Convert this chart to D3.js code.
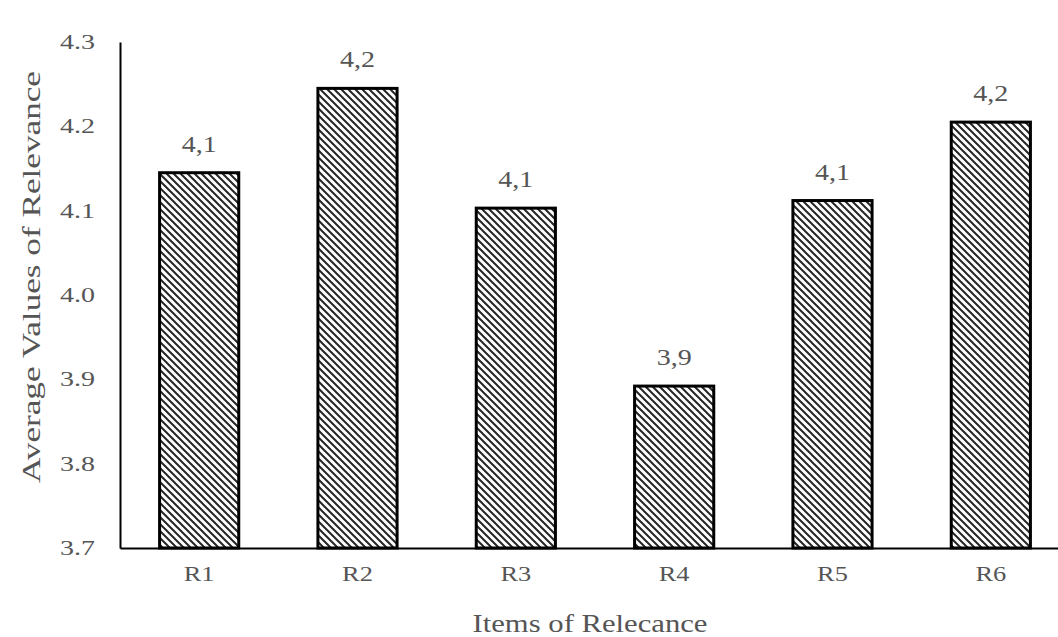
<!DOCTYPE html>
<html><head><meta charset="utf-8">
<script src="https://cdn.jsdelivr.net/npm/d3@7"></script>
<style>html,body{margin:0;padding:0;background:#fff;}</style>
</head><body>
<svg id="chart" width="1058" height="637"></svg>
<script>
const categories = ["R1","R2","R3","R4","R5","R6"];
const values = [4.145, 4.245, 4.103, 3.892, 4.112, 4.205];
const valueLabels = ["4,1","4,2","4,1","3,9","4,1","4,2"];
const yTicks = [3.7, 3.8, 3.9, 4.0, 4.1, 4.2, 4.3];
const yTickLabels = ["3.7","3.8","3.9","4.0","4.1","4.2","4.3"];
const xTitle = "Items of Relecance";
const yTitle = "Average Values of Relevance";

const svg = d3.select("#chart");
const font = "'Liberation Serif', 'Times New Roman', serif";
const textColor = "#555555";

const x = d3.scaleBand().domain(categories).range([120, 1070]).paddingInner(0.5).paddingOuter(0.25);
const y = d3.scaleLinear().domain([3.7, 4.3]).range([548, 42]);

const defs = svg.append("defs");
const pat = defs.append("pattern").attr("id","hatch").attr("patternUnits","userSpaceOnUse")
  .attr("width",7).attr("height",7);
pat.append("rect").attr("width",7).attr("height",7).attr("fill","#fff");
pat.append("path").attr("d","M-1,-1 L8,8 M-8,-1 L1,8 M6,-1 L15,8")
  .attr("stroke","#262626").attr("stroke-width",2);

// bars
svg.append("g").selectAll("rect").data(categories).join("rect")
  .attr("x", d => x(d))
  .attr("y", (d,i) => y(values[i]))
  .attr("width", x.bandwidth())
  .attr("height", (d,i) => y(3.7) - y(values[i]))
  .attr("fill","url(#hatch)")
  .attr("stroke","#000").attr("stroke-width",3);

// value labels
svg.append("g").selectAll("g").data(categories).join("g")
  .attr("transform", (d,i) => `translate(${x(d) + x.bandwidth()/2},${y(values[i]) - 21})`)
  .append("text")
  .attr("transform","scale(1.22,1)")
  .attr("text-anchor","middle")
  .attr("font-family",font).attr("font-size",23).attr("fill",textColor)
  .text((d,i) => valueLabels[i]);

// y axis
const ySx = 1.4;
const yAxis = d3.axisLeft(y).tickValues(yTicks).tickSize(0)
  .tickFormat((d,i) => yTickLabels[i]);
const gy = svg.append("g").attr("transform","translate(120,0)").call(yAxis);
gy.select(".domain").attr("stroke","#000").attr("stroke-width",2);
gy.selectAll(".tick text").attr("x", -25/ySx).attr("transform",`scale(${ySx},1)`)
  .attr("font-family",font).attr("font-size",20).attr("fill",textColor);

// x axis
const xAxis = d3.axisBottom(x).tickSize(0).tickPadding(17);
const gx = svg.append("g").attr("transform","translate(0,548)").call(xAxis);
gx.select(".domain").attr("stroke","#000").attr("stroke-width",2);
gx.selectAll(".tick text").attr("transform","scale(1.2,1)")
  .attr("font-family",font).attr("font-size",22).attr("fill",textColor);

// titles
svg.append("text").attr("x",590).attr("y",632).attr("text-anchor","middle")
  .attr("textLength",235).attr("lengthAdjust","spacingAndGlyphs")
  .attr("font-family",font).attr("font-size",25).attr("fill",textColor).text(xTitle);
svg.append("text").attr("transform","translate(40,277) rotate(-90)").attr("text-anchor","middle")
  .attr("textLength",412).attr("lengthAdjust","spacingAndGlyphs")
  .attr("font-family",font).attr("font-size",26).attr("fill",textColor).text(yTitle);
</script>
</body></html>
